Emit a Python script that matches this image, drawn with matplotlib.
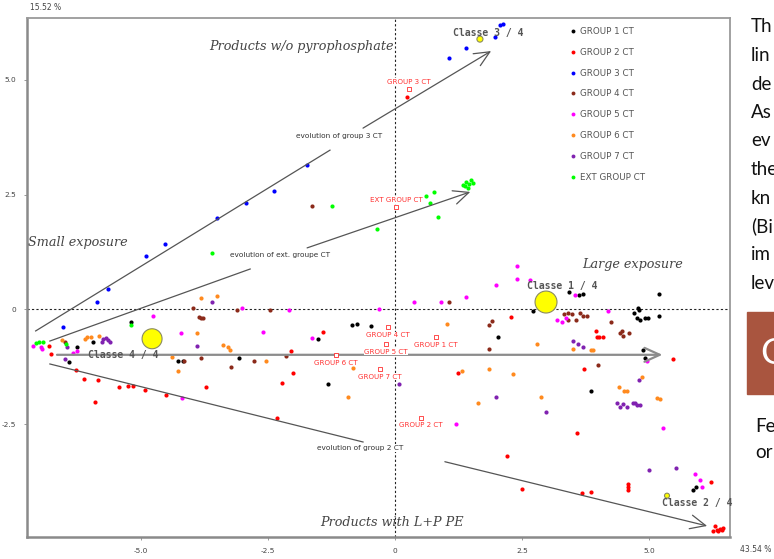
import matplotlib
matplotlib.use('Agg')
import matplotlib.pyplot as plt
from matplotlib.lines import Line2D

# points (axis 1 = 43.54 %, axis 2 = 15.52 %)
g1_x = [-5.20, -5.94, -6.26, -6.42, -4.27, -4.17, -3.07, -1.52, -0.85, -0.75, -0.47, -1.32,
        2.72, 3.43, 3.62, 3.70, 2.03, 5.20, 5.20, 4.78, 4.80, 4.70, 4.76, 4.82, 4.92, 4.98,
        4.88, 4.92, 3.86, 5.87, 5.93]
g1_y = [-0.27, -0.71, -0.82, -1.14, -1.12, -1.12, -1.06, -0.64, -0.34, -0.32, -0.36, -1.62,
        -0.03, 0.38, 0.32, 0.34, -0.60, 0.34, -0.14, 0.03, -0.01, -0.08, -0.19, -0.23, -0.19, -0.19,
        -0.88, -1.06, -1.78, -3.93, -3.87]

g2_x = [-6.81, -6.77, -6.28, -6.12, -5.85, -5.91, -5.43, -5.26, -5.16, -4.92, -4.51, -3.72,
        -2.32, -1.42, -2.05, -2.01, -2.22, 1.24, 2.28, 3.96, 3.98, 4.02, 4.09, 3.72, 3.58,
        5.47, 2.20, 2.50, 3.68, 3.86, 4.59, 4.59, 4.59, 6.22, 6.30, 6.34, 6.40, 6.46, 6.26,
        6.36, 6.44, 0.24, -1.16]
g2_y = [-0.80, -0.97, -1.32, -1.51, -1.54, -2.02, -1.69, -1.67, -1.67, -1.75, -1.86, -1.69,
        -2.36, -0.49, -0.90, -1.38, -1.60, -1.38, -0.16, -0.47, -0.60, -0.60, -0.60, -1.30, -2.69,
        -1.08, -3.19, -3.91, -4.00, -3.98, -3.80, -3.87, -3.93, -3.76, -4.72, -4.80, -4.78, -4.76, -4.83,
        -4.83, -4.80, 4.63, -0.99]

g3_x = [-6.54, -5.87, -5.65, -4.90, -4.53, -3.50, -2.93, -2.38, -1.73, 1.06, 1.40, 1.97, 2.07, 2.13]
g3_y = [-0.38, 0.16, 0.45, 1.17, 1.43, 1.99, 2.32, 2.58, 3.15, 5.48, 5.70, 5.94, 6.20, 6.22]

g4_x = [-1.63, -3.98, -3.86, -3.82, -3.78, -3.11, -2.46, -3.82, -3.23, -2.78, -2.15, -4.15,
        1.06, 1.91, 1.85, 1.85, 3.33, 3.41, 3.41, 3.48, 3.56, 3.64, 3.70, 3.78, 4.25, 4.47,
        4.49, 4.61, 4.43, 4.00, -6.50]
g4_y = [2.25, 0.03, -0.16, -0.19, -0.19, -0.01, -0.01, -1.06, -1.25, -1.12, -1.01, -1.12,
        0.16, -0.25, -0.34, -0.86, -0.10, -0.08, -0.23, -0.10, -0.23, -0.08, -0.14, -0.14, -0.27, -0.47,
        -0.58, -0.51, -0.51, -1.21, -0.72]

g5_x = [-7.13, -6.97, -6.95, -6.34, -6.26, -4.76, -4.21, -4.19, -3.01, -2.60, -2.09, -1.63,
        -0.31, 0.37, 0.91, 1.40, 1.99, 2.40, 2.40, 2.66, 3.19, 3.29, 3.37, 3.54, 4.19, 4.96,
        5.28, 1.20, 5.91, 6.00, 6.04]
g5_y = [-0.80, -0.82, -0.86, -0.95, -0.90, -0.14, -0.51, -1.93, 0.03, -0.49, -0.01, -0.62,
        0.01, 0.16, 0.16, 0.27, 0.53, 0.95, 0.66, 0.64, -0.23, -0.27, -0.19, 0.32, -0.03, -1.12,
        -2.58, -2.49, -3.58, -3.71, -3.86]

g6_x = [-6.56, -6.10, -6.06, -5.98, -5.83, -3.82, -3.50, -3.90, -3.39, -3.29, -3.25, -4.39,
        -4.27, -2.54, -0.83, -0.93, 1.02, 2.80, 1.32, 1.85, 2.32, 1.63, 2.87, 3.50, 3.86, 3.90,
        4.41, 4.51, 4.57, 4.86, 5.16, 5.22]
g6_y = [-0.66, -0.64, -0.60, -0.60, -0.58, 0.25, 0.29, -0.51, -0.77, -0.82, -0.88, -1.03,
        -1.34, -1.12, -1.27, -1.91, -0.32, -0.75, -1.34, -1.30, -1.41, -2.04, -1.91, -0.86, -0.88, -0.88,
        -1.69, -1.78, -1.78, -1.47, -1.93, -1.95]

g7_x = [-5.77, -5.75, -5.69, -5.65, -5.61, -3.60, -3.90, -6.50, 0.08, 3.50, 3.60, 3.70,
        4.80, 1.99, 2.97, 4.37, 4.43, 4.49, 4.57, 4.69, 4.76, 4.82, 4.72, 5.00, 5.53, -6.45]
g7_y = [-0.71, -0.64, -0.62, -0.66, -0.71, 0.16, -0.80, -1.08, -1.62, -0.69, -0.75, -0.82,
        -1.54, -1.91, -2.23, -2.04, -2.12, -2.06, -2.12, -2.04, -2.08, -2.08, -2.04, -3.50, -3.45, -0.82]

ext_x = [-3.60, -1.24, -0.35, 0.61, 0.77, 0.69, 0.85, 1.34, 1.40, 1.46, 1.50, 1.44, 1.54, 1.38,
         -5.20, -7.07, -7.01, -6.93, -6.48]
ext_y = [1.23, 2.25, 1.75, 2.47, 2.56, 2.32, 2.02, 2.71, 2.78, 2.74, 2.82, 2.64, 2.76, 2.68,
         -0.34, -0.73, -0.71, -0.71, -0.75]

groups = ['GROUP 1 CT', 'GROUP 2 CT', 'GROUP 3 CT', 'GROUP 4 CT',
          'GROUP 5 CT', 'GROUP 6 CT', 'GROUP 7 CT', 'EXT GROUP CT']
colors = ['#000000', '#ff0000', '#0000ff', '#8b2a1a', '#ff00ff', '#ff8a1e', '#8022b0', '#00ff00']
xs = [g1_x, g2_x, g3_x, g4_x, g5_x, g6_x, g7_x, ext_x]
ys = [g1_y, g2_y, g3_y, g4_y, g5_y, g6_y, g7_y, ext_y]

# group centres (red open squares)
centre_names = ['GROUP 1 CT', 'GROUP 2 CT', 'GROUP 3 CT', 'GROUP 4 CT',
                'GROUP 5 CT', 'GROUP 6 CT', 'GROUP 7 CT', 'EXT GROUP CT']
centre_x = [0.81, 0.51, 0.28, -0.14, -0.18, -1.16, -0.30, 0.02]
centre_y = [-0.60, -2.36, 4.81, -0.39, -0.75, -0.99, -1.30, 2.23]
centre_above = [False, False, True, False, False, False, False, True]

# classes (yellow circles)
class_names = ['Classe 1 / 4', 'Classe 2 / 4', 'Classe 3 / 4', 'Classe 4 / 4']
class_x = [2.97, 5.35, 1.67, -4.78]
class_y = [0.16, -4.06, 5.89, -0.64]
class_size = [250, 13, 19, 207]

fig = plt.figure(figsize=(7.74, 5.59), dpi=100)
ax = fig.add_axes([0.0349, 0.0394, 0.9083, 0.9284])
ax.set_xlim(-7.24, 6.59)
ax.set_ylim(-4.96, 6.35)

ax.axhline(0, color='#222222', lw=0.8, ls=(0, (2, 2)), zorder=1)
ax.axvline(0, color='#222222', lw=0.8, ls=(0, (2, 2)), zorder=1)

for x, y, c in zip(xs, ys, colors):
    ax.scatter(x, y, s=9, color=c, linewidths=0, zorder=3)

ax.scatter(class_x, class_y, s=class_size, color='#ffff00', edgecolors='#8a8a60',
           linewidths=0.8, zorder=4)

# evolution arrows: (start, break, resume, tip)
arrow_grey = '#555555'
evolutions = [
    ((-7.07, -0.47), (-1.28, 3.47), (-0.63, 3.95), (1.89, 5.63)),
    ((-6.79, -0.69), (-2.85, 0.88), (-1.73, 1.34), (1.48, 2.56)),
    ((-6.79, -1.19), (-0.63, -2.89), (0.98, -3.32), (6.14, -4.72)),
]
for a, b, c, d in evolutions:
    ax.plot([a[0], b[0]], [a[1], b[1]], color=arrow_grey, lw=0.9, zorder=5)
    ax.annotate('', xy=d, xytext=c,
                arrowprops=dict(arrowstyle='->,head_length=1.1,head_width=0.5',
                                color=arrow_grey, lw=0.9, shrinkA=0, shrinkB=0), zorder=5)
ax.annotate('', xy=(5.26, -0.99), xytext=(-6.65, -0.99),
            arrowprops=dict(arrowstyle='->,head_length=1.1,head_width=0.5',
                            color='#8c8c8c', lw=1.6, shrinkA=0, shrinkB=0), zorder=5)

small = dict(fontsize=5.3, color='#333333', zorder=6)
ax.text(-1.10, 3.78, 'evolution of group 3 CT', ha='center', va='center', **small,
        bbox=dict(facecolor='white', edgecolor='none', pad=0.5))
ax.text(-2.26, 1.19, 'evolution of ext. groupe CT', ha='center', va='center', **small,
        bbox=dict(facecolor='white', edgecolor='none', pad=0.5))
ax.text(-0.69, -3.02, 'evolution of group 2 CT', ha='center', va='center', **small,
        bbox=dict(facecolor='white', edgecolor='none', pad=0.5))

for name, x, y, above in zip(centre_names, centre_x, centre_y, centre_above):
    ax.scatter([x], [y], s=9, marker='s', facecolors='white', edgecolors='#ff3030',
               linewidths=0.6, zorder=7)
    dy = 0.15 if above else -0.17
    ax.text(x, y + dy, name, ha='center', va='center', fontsize=5.1, color='#ff3030',
            zorder=6, bbox=dict(facecolor='white', edgecolor='none', pad=0.3))

cls = dict(fontsize=7, color='#555555', family='DejaVu Sans Mono', weight='bold', zorder=8)
ax.text(-6.05, -0.99, 'Classe 4 / 4', ha='left', va='center', **cls)
ax.text(2.60, 0.50, 'Classe 1 / 4', ha='left', va='center', **cls)
ax.text(1.14, 6.03, 'Classe 3 / 4', ha='left', va='center', **cls)
ax.text(5.25, -4.22, 'Classe 2 / 4', ha='left', va='center', clip_on=False, **cls)

lab = dict(fontsize=9.2, color='#444444', family='DejaVu Serif', style='italic', zorder=8)
ax.text(-3.65, 5.72, 'Products w/o pyrophosphate', ha='left', va='center', **lab)
ax.text(-7.22, 1.45, 'Small exposure', ha='left', va='center', **lab)
ax.text(3.68, 0.97, 'Large exposure', ha='left', va='center', **lab)
ax.text(-1.48, -4.65, 'Products with L+P PE', ha='left', va='center', **lab)

handles = [Line2D([], [], ls='none', marker='o', ms=2.8, color=c, mec='none') for c in colors]
ax.legend(handles, groups, loc='upper left', bbox_to_anchor=(0.7364, 0.9517),
          bbox_transform=fig.transFigure, frameon=False, fontsize=6.3,
          labelcolor='#555555', handlelength=0.6, handletextpad=0.5,
          labelspacing=1.35, borderpad=0, borderaxespad=0)

ax.set_xticks([-5.0, -2.5, 0, 2.5, 5.0])
ax.set_xticklabels(['-5.0', '-2.5', '0', '2.5', '5.0'])
ax.set_yticks([-2.5, 0, 2.5, 5.0])
ax.set_yticklabels(['-2.5', '0', '2.5', '5.0'])
ax.tick_params(labelsize=5.3, labelcolor='#444444', color='#888888', length=2, width=0.6, pad=6)
for side in ['left', 'bottom']:
    ax.spines[side].set_color('#8a8a8a')
    ax.spines[side].set_linewidth(1.8)
for side in ['top', 'right']:
    ax.spines[side].set_color('#9a9a9a')
    ax.spines[side].set_linewidth(1.3)

fig.text(30 / 774, 1 - 8 / 559, '15.52 %', fontsize=5.5, color='#444444', va='center')
fig.text(740 / 774, 1 - 550 / 559, '43.54 %', fontsize=5.5, color='#444444', va='center')

# slide text cut off on the right
side_lines = ['Th', 'lin', 'de', 'As', 'ev', 'the', 'kn', '(Bi', 'im', 'lev']
for i, t in enumerate(side_lines):
    fig.text(751 / 774, 1 - (27 + 28.5 * i) / 559, t, fontsize=13.5, family='Lato',
             color='#111111', va='center')
fig.patches.append(plt.Rectangle((747 / 774, 1 - 394 / 559), 40 / 774, 82 / 559,
                                 transform=fig.transFigure, color='#a9553f', zorder=0))
fig.text(760 / 774, 1 - 353 / 559, 'C', fontsize=26, family='Lato', color='white', va='center')
fig.text(755 / 774, 1 - 426 / 559, 'Fe', fontsize=13.5, family='Lato', color='#111111', va='center')
fig.text(755 / 774, 1 - 452 / 559, 'or', fontsize=13.5, family='Lato', color='#111111', va='center')

fig.savefig('out.png', dpi=100)
